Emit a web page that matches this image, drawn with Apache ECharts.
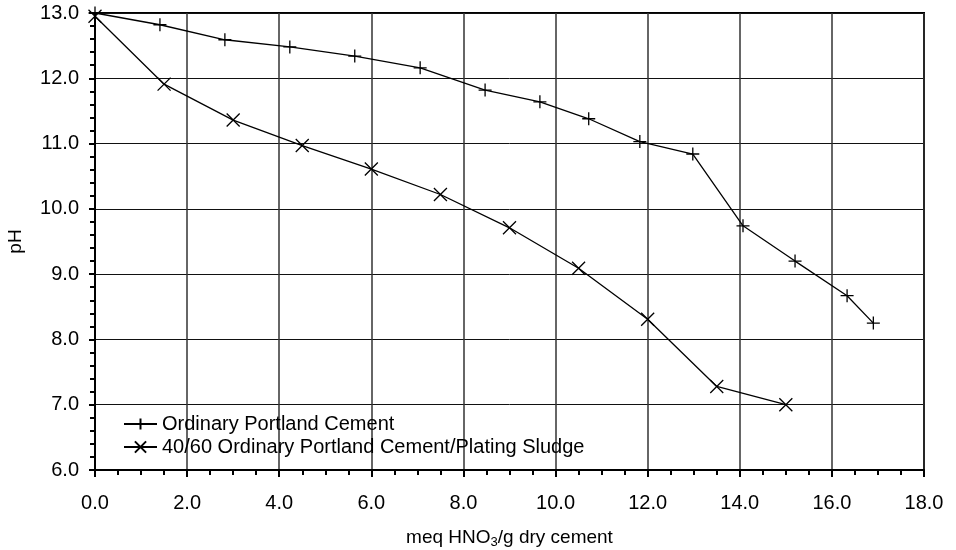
<!DOCTYPE html>
<html>
<head>
<meta charset="utf-8">
<script src="https://cdn.jsdelivr.net/npm/echarts@6/dist/echarts.min.js"></script>
<style>
  html, body { margin: 0; padding: 0; background: #fff; }
  #chart { width: 956px; height: 550px; }
</style>
</head>
<body>
<div id="chart"></div>
<script>
// Acid neutralisation: pH against acid added per gram of dry cement
const seriesNames = ['Ordinary Portland Cement', '40/60 Ordinary Portland Cement/Plating Sludge'];

const opcAcid = [0.0, 1.41, 2.82, 4.23, 5.64, 7.06, 8.47, 9.66, 10.72, 11.83, 12.98, 14.07, 15.2, 16.33, 16.9];
const opcPH   = [13.0, 12.82, 12.59, 12.48, 12.34, 12.16, 11.82, 11.64, 11.38, 11.03, 10.84, 9.74, 9.2, 8.67, 8.25];

const sludgeAcid = [0.0, 1.5, 3.0, 4.5, 6.0, 7.5, 9.0, 10.5, 12.0, 13.5, 15.0];
const sludgePH   = [12.95, 11.91, 11.36, 10.97, 10.61, 10.22, 9.71, 9.09, 8.31, 7.28, 7.0];

const xTicks = { min: 0, max: 18, step: 2 };
const yTicks = { min: 6, max: 13, step: 1 };

const FONT = '"Liberation Sans", Arial, sans-serif';
const plusPath = 'path://M0,6H12M6,0V12';
const crossPath = 'path://M0,0L12,12M12,0L0,12';

const pairs = (xs, ys) => xs.map((x, i) => [x, ys[i]]);

const chart = echarts.init(document.getElementById('chart'), null, { renderer: 'canvas' });

const lineSeries = (name, data, symbol, size) => ({
  name,
  type: 'line',
  data,
  symbol,
  symbolSize: size,
  showAllSymbol: true,
  clip: false,
  lineStyle: { color: '#000', width: 1.3 },
  itemStyle: { color: '#000', borderColor: '#000', borderWidth: 1.3 },
  emphasis: { disabled: true },
  z: 5
});

chart.setOption({
  animation: false,
  backgroundColor: '#fff',
  textStyle: { fontFamily: FONT, color: '#000' },
  grid: {
    left: 95, right: 32, top: 13, bottom: 80,
    containLabel: false,
    outerBoundsMode: 'none',
    show: true, borderColor: '#000', borderWidth: 2, backgroundColor: 'transparent'
  },
  legend: {
    orient: 'vertical',
    left: 118, top: 409,
    itemWidth: 33, itemHeight: 14, itemGap: 3,
    textStyle: { fontFamily: FONT, fontSize: 20, color: '#000' },
    data: seriesNames,
    selectedMode: false
  },
  xAxis: {
    type: 'value',
    min: xTicks.min, max: xTicks.max, interval: xTicks.step,
    name: '{a|meq HNO}{s|3}{a|/g dry cement}',
    nameLocation: 'middle', nameGap: 56,
    nameTextStyle: {
      rich: {
        a: { fontFamily: FONT, fontSize: 19, color: '#000' },
        s: { fontFamily: FONT, fontSize: 13, color: '#000', padding: [10, 0, 0, 0] }
      }
    },
    axisLine: { show: true, onZero: false, lineStyle: { color: '#000', width: 2 } },
    axisTick: { show: true, inside: false, length: 7, lineStyle: { color: '#000', width: 2 } },
    minorTick: { show: true, splitNumber: 4, length: 5, lineStyle: { color: '#000', width: 2 } },
    axisLabel: {
      fontFamily: FONT, fontSize: 20, color: '#000', margin: 23,
      formatter: v => v.toFixed(1)
    },
    splitLine: { show: true, lineStyle: { color: '#333', width: 1.5 } }
  },
  yAxis: {
    type: 'value',
    min: yTicks.min, max: yTicks.max, interval: yTicks.step,
    name: 'pH',
    nameLocation: 'middle', nameGap: 70, nameRotate: 90,
    nameTextStyle: { fontFamily: FONT, fontSize: 19, color: '#000' },
    axisLine: { show: true, onZero: false, lineStyle: { color: '#000', width: 2 } },
    axisTick: { show: true, inside: false, length: 6, lineStyle: { color: '#000', width: 2 } },
    minorTick: { show: true, splitNumber: 5, length: 5, lineStyle: { color: '#000', width: 2 } },
    axisLabel: {
      fontFamily: FONT, fontSize: 20, color: '#000', margin: 16,
      formatter: v => v.toFixed(1)
    },
    splitLine: { show: true, lineStyle: { color: '#111', width: 1 } }
  },
  series: [
    lineSeries(seriesNames[0], pairs(opcAcid, opcPH), plusPath, 13),
    lineSeries(seriesNames[1], pairs(sludgeAcid, sludgePH), crossPath, 13)
  ]
});
</script>
</body>
</html>
